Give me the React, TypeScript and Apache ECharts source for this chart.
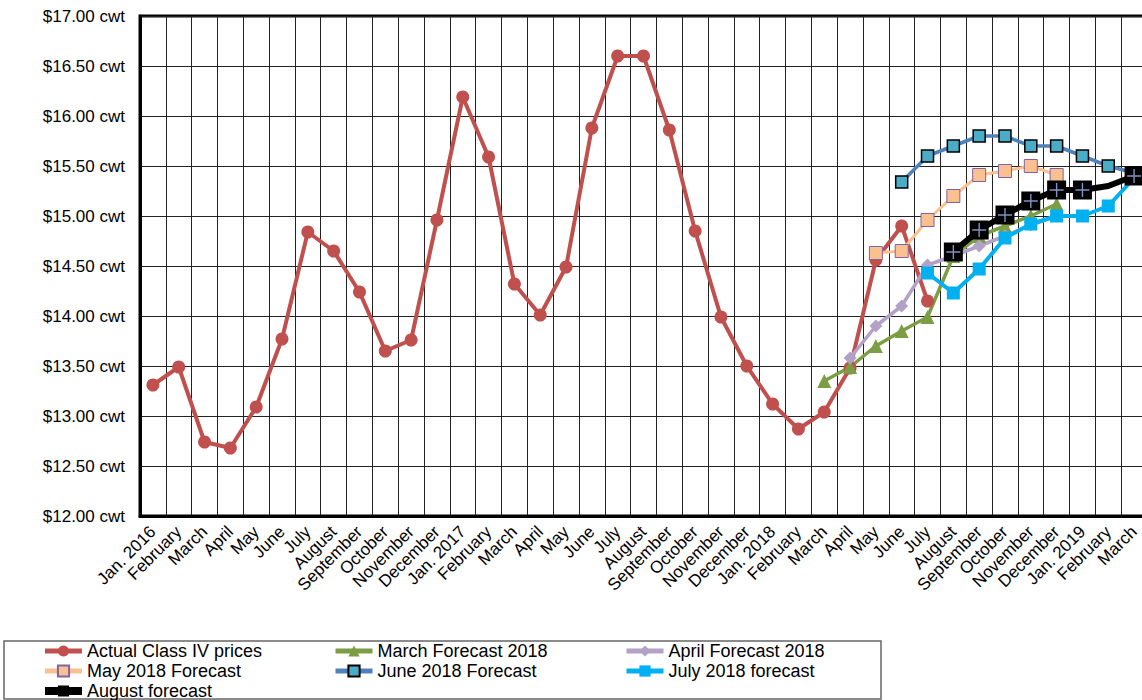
import React, { useEffect, useRef } from "react";
import * as echarts from "echarts";

const categories = [
  "Jan. 2016", "February", "March", "April", "May", "June", "July", "August", "September", "October", "November", "December",
  "Jan. 2017", "February", "March", "April", "May", "June", "July", "August", "September", "October", "November", "December",
  "Jan. 2018", "February", "March", "April", "May", "June", "July", "August", "September", "October", "November", "December",
  "Jan. 2019", "February", "March",
];

const actualStart = 0;
const actualValues = [
  13.31, 13.49, 12.74, 12.68, 13.09, 13.77, 14.84, 14.65, 14.24, 13.65, 13.76, 14.96,
  16.19, 15.59, 14.32, 14.01, 14.49, 15.88, 16.6, 16.6, 15.86, 14.85, 13.99, 13.5,
  13.12, 12.87, 13.04, 13.48, 14.56, 14.9, 14.15,
];
const marchStart = 26;
const marchValues = [13.35, 13.49, 13.7, 13.85, 13.99, 14.6, 14.8, 14.9, 15.0, 15.12];
const aprilStart = 27;
const aprilValues = [13.58, 13.9, 14.1, 14.51, 14.6, 14.7, 14.8, 14.91, 15.0];
const mayStart = 28;
const mayValues = [14.63, 14.65, 14.96, 15.2, 15.41, 15.45, 15.5, 15.41];
const juneStart = 29;
const juneValues = [15.34, 15.6, 15.7, 15.8, 15.8, 15.7, 15.7, 15.6, 15.5, 15.43];
const julyStart = 30;
const julyValues = [14.43, 14.23, 14.47, 14.78, 14.92, 15.0, 15.0, 15.1, 15.38];
const augustStart = 31;
const augustValues = [14.64, 14.86, 15.01, 15.15, 15.26, 15.26, 15.3, 15.4];
const augustNoMarker = [37]; // February 2019 has no marker

const yMin = 12;
const yMax = 17;
const yStep = 0.5;

const FONT = "'Liberation Sans', Arial, sans-serif";

function place(start: number, values: number[]): (number | null)[] {
  const out: (number | null)[] = categories.map(() => null);
  values.forEach((v, i) => {
    out[start + i] = v;
  });
  return out;
}

export default function App() {
  const ref = useRef<HTMLDivElement>(null);
  useEffect(() => {
    document.body.style.margin = "0";
    if (!ref.current) return;
    const chart = echarts.init(ref.current, undefined, { renderer: "svg" });

    const augustData = place(augustStart, augustValues).map((v, i) =>
      v == null ? null : augustNoMarker.includes(i) ? { value: v, symbol: "none" } : v
    );
    const augustCross = place(augustStart, augustValues).map((v, i) =>
      v == null || augustNoMarker.includes(i) ? null : v
    );

    const legendBase = {
      orient: "vertical" as const,
      top: 641,
      height: 80,
      padding: 0,
      itemGap: 0,
      itemWidth: 37,
      itemHeight: 14,
      lineStyle: { width: 5 },
      textStyle: { fontFamily: FONT, fontSize: 18, color: "#000", lineHeight: 20 },
    };

    chart.setOption({
      animation: false,
      backgroundColor: "#fff",
      grid: {
        left: 140,
        top: 16,
        right: 0,
        bottom: 184,
        show: true,
        borderColor: "#000",
        borderWidth: 3,
      },
      legend: [
        {
          ...legendBase,
          left: 41,
          data: [
            "Actual Class IV prices",
            "May 2018 Forecast",
            { name: "August forecast", lineStyle: { width: 8 } },
          ],
        },
        { ...legendBase, left: 333, data: ["March Forecast 2018", "June 2018 Forecast"] },
        { ...legendBase, left: 624, data: ["April Forecast 2018", "July 2018 forecast"] },
      ],
      graphic: [
        {
          type: "rect",
          shape: { x: 4, y: 641, width: 877, height: 58 },
          style: { fill: "none", stroke: "#666", lineWidth: 1.5 },
          silent: true,
        },
      ],
      xAxis: {
        type: "category",
        data: categories,
        boundaryGap: true,
        axisLine: { show: true, lineStyle: { color: "#000", width: 3 } },
        axisTick: { show: false },
        splitLine: { show: true, interval: 0, lineStyle: { color: "#222", width: 1 } },
        axisLabel: {
          interval: 0,
          rotate: 45,
          fontSize: 17,
          fontFamily: FONT,
          color: "#000",
          margin: 13,
        },
      },
      yAxis: {
        type: "value",
        min: yMin,
        max: yMax,
        interval: yStep,
        axisLine: { show: true, lineStyle: { color: "#000", width: 3 } },
        axisTick: { show: false },
        splitLine: { show: true, lineStyle: { color: "#222", width: 1 } },
        axisLabel: {
          fontSize: 17,
          fontFamily: FONT,
          color: "#000",
          margin: 15,
          formatter: (v: number) => `$${v.toFixed(2)} cwt`,
        },
      },
      series: [
        {
          name: "Actual Class IV prices",
          type: "line",
          data: place(actualStart, actualValues),
          symbol: "circle",
          symbolSize: 13,
          lineStyle: { color: "#C0504D", width: 4 },
          itemStyle: { color: "#C0504D" },
        },
        {
          name: "March Forecast 2018",
          type: "line",
          data: place(marchStart, marchValues),
          symbol: "triangle",
          symbolSize: 14,
          lineStyle: { color: "#7B9E45", width: 3.5 },
          itemStyle: { color: "#7B9E45" },
        },
        {
          name: "April Forecast 2018",
          type: "line",
          data: place(aprilStart, aprilValues),
          symbol: "diamond",
          symbolSize: 13,
          lineStyle: { color: "#B3A2C7", width: 3.5 },
          itemStyle: { color: "#B3A2C7" },
        },
        {
          name: "May 2018 Forecast",
          type: "line",
          data: place(mayStart, mayValues),
          symbol: "rect",
          symbolSize: 13,
          lineStyle: { color: "#FAC090", width: 3 },
          itemStyle: { color: "#FAC090", borderColor: "#8064A2", borderWidth: 1 },
        },
        {
          name: "June 2018 Forecast",
          type: "line",
          data: place(juneStart, juneValues),
          symbol: "rect",
          symbolSize: 12,
          lineStyle: { color: "#4F81BD", width: 3.5 },
          itemStyle: { color: "#4BACC6", borderColor: "#000", borderWidth: 1.5 },
        },
        {
          name: "July 2018 forecast",
          type: "line",
          data: place(julyStart, julyValues),
          symbol: "rect",
          symbolSize: 13,
          lineStyle: { color: "#00B0F0", width: 4 },
          itemStyle: { color: "#00B0F0" },
        },
        {
          name: "August forecast",
          type: "line",
          data: augustData,
          symbol: "rect",
          symbolSize: 19,
          lineStyle: { color: "#000", width: 6 },
          itemStyle: { color: "#000" },
        },
        {
          name: "August cross",
          type: "line",
          data: augustCross,
          symbol: "path://M5.4 0H6.6V5.4H12V6.6H6.6V12H5.4V6.6H0V5.4H5.4Z",
          symbolSize: 14,
          lineStyle: { width: 0, opacity: 0 },
          itemStyle: { color: "#7F93C0" },
          silent: true,
          z: 3,
        },
      ],
    });
    return () => chart.dispose();
  }, []);
  return (
    <div style={{ width: 1142, height: 700, overflow: "hidden", position: "relative" }}>
      <div ref={ref} style={{ width: 1147, height: 700 }} />
    </div>
  );
}
